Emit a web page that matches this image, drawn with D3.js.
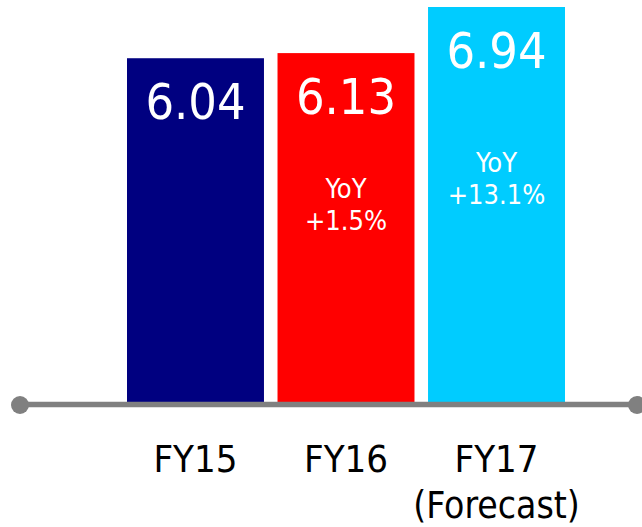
<!DOCTYPE html>
<html lang="en">
<head>
    <meta charset="UTF-8">
    <title>FY15-FY17</title>
    <script src="https://d3js.org/d3.v7.min.js"></script>
    <style>
        body { margin: 0; background: #fff; }
        svg text { font-family: "DejaVu Sans Condensed", "DejaVu Sans", sans-serif; }
    </style>
</head>
<body>
    <svg width="642" height="527"></svg>

    <script>
        // chart data
        const categories = ["FY15", "FY16", "FY17"];
        const subLabels = ["", "", "(Forecast)"];
        const values = [6.04, 6.13, 6.94];
        const yoyLabels = [null, "+1.5%", "+13.1%"];
        const colors = ["#000080", "#ff0000", "#00ccff"];

        const width = 642;
        const height = 527;
        const svg = d3.select("svg");

        const x = d3.scaleBand()
            .domain(categories)
            .range([127, 565])
            .paddingInner(0.09)
            .paddingOuter(0);

        const y = d3.scaleLinear()
            .domain([0, 6.94])
            .range([402, 7]);

        // bars
        svg.selectAll(".bar")
            .data(values)
            .enter().append("rect")
            .attr("class", "bar")
            .attr("x", (d, i) => x(categories[i]))
            .attr("width", x.bandwidth())
            .attr("y", d => y(d))
            .attr("height", d => y(0) - y(d))
            .style("fill", (d, i) => colors[i]);

        // value labels inside bars
        svg.selectAll(".val")
            .data(values)
            .enter().append("text")
            .attr("class", "val")
            .attr("x", (d, i) => x(categories[i]) + x.bandwidth() / 2)
            .attr("y", d => y(d) + 61)
            .attr("text-anchor", "middle")
            .style("font-size", "50px")
            .style("fill", "#fff")
            .text(d => d.toFixed(2));

        // YoY notes (offset below bar top differs per bar)
        const yoyOffset = [0, 145, 165];
        yoyLabels.forEach((d, i) => {
            if (!d) return;
            const cx = x(categories[i]) + x.bandwidth() / 2;
            const t = svg.append("text")
                .attr("x", cx)
                .attr("y", y(values[i]) + yoyOffset[i])
                .attr("text-anchor", "middle")
                .style("font-size", "27px")
                .style("fill", "#fff");
            t.append("tspan").attr("x", cx).text("YoY");
            t.append("tspan").attr("x", cx).attr("dy", 32).text(d);
        });

        // axis line with round ends
        svg.append("line")
            .attr("x1", 20).attr("x2", 637)
            .attr("y1", 404.5).attr("y2", 404.5)
            .style("stroke", "#808080")
            .style("stroke-width", 5.5);
        [20, 637].forEach(cx => {
            svg.append("circle")
                .attr("cx", cx).attr("cy", 405)
                .attr("r", 9)
                .style("fill", "#808080");
        });

        // category labels
        categories.forEach((c, i) => {
            const cx = x(c) + x.bandwidth() / 2;
            svg.append("text")
                .attr("x", cx)
                .attr("y", 472)
                .attr("text-anchor", "middle")
                .style("font-size", "38px")
                .style("fill", "#000")
                .text(c);
            if (subLabels[i]) {
                svg.append("text")
                    .attr("x", cx)
                    .attr("y", 518)
                    .attr("text-anchor", "middle")
                    .style("font-size", "37px")
                    .style("fill", "#000")
                    .text(subLabels[i]);
            }
        });
    </script>
</body>
</html>
